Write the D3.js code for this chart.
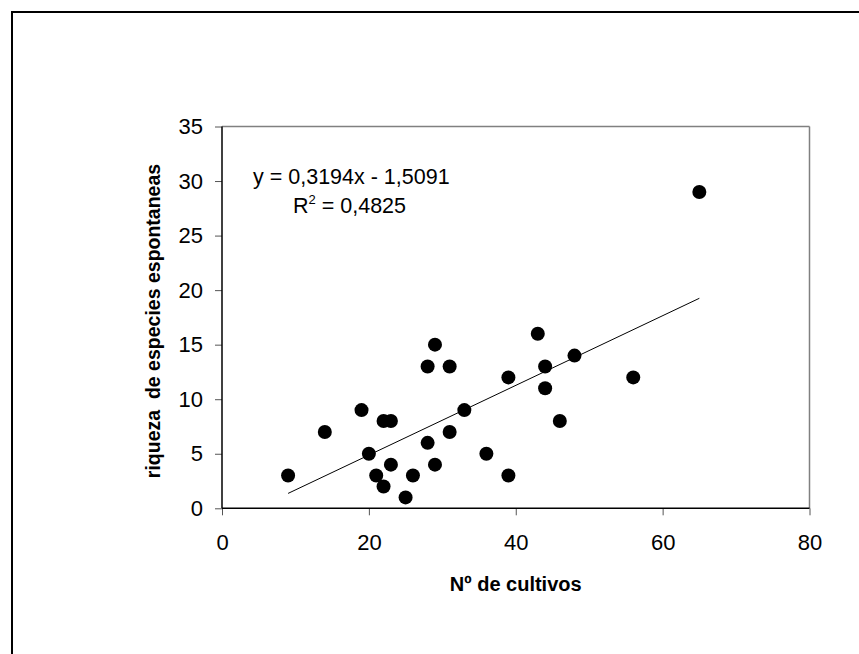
<!DOCTYPE html>
<html>
<head>
<meta charset="utf-8">
<style>
  html, body { margin: 0; padding: 0; background: #fff; }
  svg { display: block; font-family: Arial, "Liberation Sans", sans-serif; }
  .axis text { font-size: 22px; fill: #000; }
  .axis .tick line { stroke: #555; }
  .title { white-space: pre; }
</style>
</head>
<body>
<div id="chart"></div>
<script src="https://cdn.jsdelivr.net/npm/d3@7"></script>
<script>
  // ****** data ******
  var cultivos = [9, 14, 19, 20, 21, 22, 22, 23, 23, 25, 26, 28, 28, 29, 29, 31, 31, 33, 36, 39, 39, 43, 44, 44, 46, 48, 56, 65];
  var riqueza  = [3, 7, 9, 5, 3, 2, 8, 8, 4, 1, 3, 13, 6, 15, 4, 13, 7, 9, 5, 12, 3, 16, 13, 11, 8, 14, 12, 29];
  var xTicks = [0, 20, 40, 60, 80];
  var yTicks = [0, 5, 10, 15, 20, 25, 30, 35];
  var slope = 0.3194, intercept = -1.5091, r2 = 0.4825;
  var xTitle = "Nº de cultivos";
  var yTitle = "riqueza  de especies espontaneas";

  var W = 859, H = 654;
  var plotLeft = 222, plotRight = 809.5, plotTop = 126.5, plotBottom = 508.3;

  var svg = d3.select("#chart").append("svg")
    .attr("width", W)
    .attr("height", H);

  // outer frame (only left and top edges are inside the picture)
  svg.append("rect")
    .attr("x", 12).attr("y", 12)
    .attr("width", W + 20).attr("height", H + 20)
    .attr("fill", "none")
    .attr("stroke", "#000")
    .attr("stroke-width", 2);

  var x = d3.scaleLinear().domain([0, 80]).range([plotLeft, plotRight]);
  var y = d3.scaleLinear().domain([0, 35]).range([plotBottom, plotTop]);

  // gray top / right plot borders
  svg.append("line")
    .attr("x1", plotLeft).attr("x2", plotRight)
    .attr("y1", plotTop).attr("y2", plotTop)
    .attr("stroke", "#808080").attr("stroke-width", 1.5);
  svg.append("line")
    .attr("x1", plotRight).attr("x2", plotRight)
    .attr("y1", plotTop).attr("y2", plotBottom)
    .attr("stroke", "#808080").attr("stroke-width", 1.5);

  var xAxis = d3.axisBottom(x).tickValues(xTicks).tickSize(7).tickPadding(19).tickSizeOuter(0);
  var yAxis = d3.axisLeft(y).tickValues(yTicks).tickSize(7).tickPadding(12).tickSizeOuter(0);

  var gx = svg.append("g")
    .attr("class", "axis")
    .attr("transform", "translate(0," + plotBottom + ")")
    .call(xAxis);
  gx.select(".domain").remove();

  var gy = svg.append("g")
    .attr("class", "axis")
    .attr("transform", "translate(" + plotLeft + ",0)")
    .call(yAxis);
  gy.select(".domain").remove();

  // black axis lines
  svg.append("line")
    .attr("x1", plotLeft).attr("x2", plotRight)
    .attr("y1", plotBottom).attr("y2", plotBottom)
    .attr("stroke", "#000").attr("stroke-width", 1.5);
  svg.append("line")
    .attr("x1", plotLeft).attr("x2", plotLeft)
    .attr("y1", plotTop).attr("y2", plotBottom)
    .attr("stroke", "#000").attr("stroke-width", 1.5);

  // trend line over the data range
  var xMin = d3.min(cultivos), xMax = d3.max(cultivos);
  svg.append("line")
    .attr("x1", x(xMin)).attr("y1", y(slope * xMin + intercept))
    .attr("x2", x(xMax)).attr("y2", y(slope * xMax + intercept))
    .attr("stroke", "#000").attr("stroke-width", 1);

  // points
  svg.selectAll(".dot")
    .data(d3.range(cultivos.length))
    .enter().append("circle")
    .attr("class", "dot")
    .attr("cx", function(i) { return x(cultivos[i]); })
    .attr("cy", function(i) { return y(riqueza[i]); })
    .attr("r", 7)
    .attr("fill", "#000");

  // equation
  var fmt = function(v) { return String(v).replace(".", ","); };
  svg.append("text")
    .attr("x", 253).attr("y", 184)
    .style("font-size", "21.5px")
    .text("y = " + fmt(slope) + "x - " + fmt(Math.abs(intercept)));

  var rt = svg.append("text")
    .attr("x", 293).attr("y", 213)
    .style("font-size", "21.5px");
  rt.append("tspan").text("R");
  rt.append("tspan").attr("dy", -9).style("font-size", "13px").text("2");
  rt.append("tspan").attr("dy", 9).text(" = " + fmt(r2));

  // axis titles
  svg.append("text")
    .attr("class", "title")
    .attr("x", (plotLeft + plotRight) / 2).attr("y", 591)
    .attr("text-anchor", "middle")
    .style("font-size", "20px")
    .style("font-weight", "bold")
    .text(xTitle);

  svg.append("text")
    .attr("class", "title")
    .attr("transform", "translate(160," + 321 + ") rotate(-90)")
    .attr("text-anchor", "middle")
    .style("font-size", "19.5px")
    .style("font-weight", "bold")
    .text(yTitle);
</script>
</body>
</html>
